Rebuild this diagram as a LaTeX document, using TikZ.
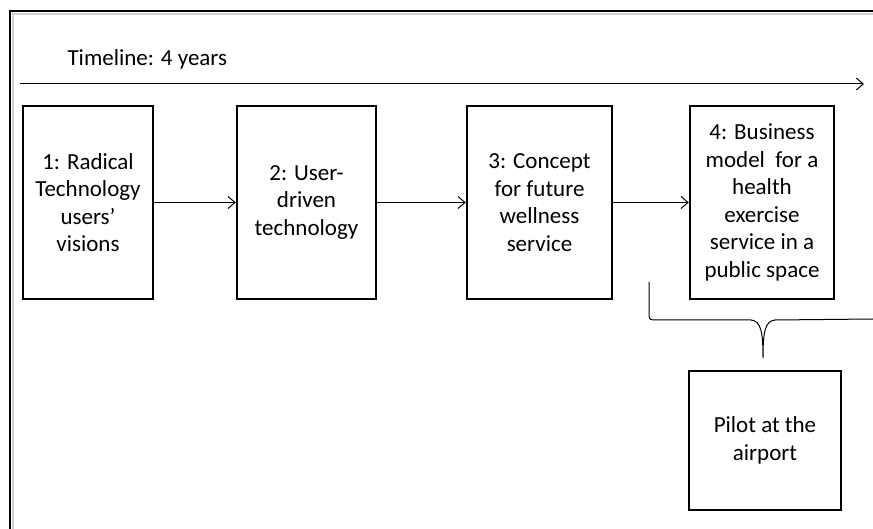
\documentclass[tikz,border=0pt]{standalone}
\usepackage{fontspec}
\setmainfont{Carlito}
\usepackage{tikz}
\usetikzlibrary{arrows.meta}

\tikzset{
	stage/.style={shape=rectangle,draw=black,line width=2.5pt,align=center,inner sep=0pt},
	flow/.style={-{Straight Barb[length=7pt,width=12pt]},line width=1pt},
}

\begin{document}
\begin{tikzpicture}[x=1pt,y=-1pt,font=\fontsize{23}{27.5}\selectfont]
	
	\useasboundingbox (0,0) rectangle (873,529);
	
	% frame
	\draw[gray!35,line width=2pt] (13,529) -- (13,14) -- (873,14);
	\draw[line width=2.5pt] (10,529) -- (10,11) -- (873,11);
	
	% timeline
	\node[anchor=west] (tl) at (64,59) {Timeline: 4 years};
	\coordinate (ts) at (20,84);
	\coordinate (te) at (864,84);
	\path[flow] (ts) edge (te);
	
	\node[stage,minimum width=130,minimum height=193] (s1) at (88,202.5)  {1: Radical\\Technology\\users’\\visions};
	\node[stage,minimum width=139,minimum height=193] (s2) at (306.5,202.5) {2: User-\\driven\\technology};
	\node[stage,minimum width=145,minimum height=193] (s3) at (539.5,202.5) {3: Concept\\for future\\wellness\\service};
	\node[stage,minimum width=144,minimum height=193] (s4) at (762,202.5) {4: Business\\model~ for a\\health\\exercise\\service in a\\public space};
	%\node[stage] (s5) at (762,440) {};
	\node[stage,minimum width=152,minimum height=139] (pilot) at (765,440.5) {Pilot at the\\airport};
	
	\path[flow] (s1) edge (s2);
	\path[flow] (s2) edge (s3);
	\path[flow] (s3) edge (s4);
	
	% brace over the pilot
	\draw[line width=1pt] (649,282) -- (649,312) .. controls (649,320) .. (657,320)
		-- (751,320) .. controls (761,321) and (763,332) .. (763,358)
		.. controls (763,332) and (765,321) .. (775,320) -- (873,319);
	
\end{tikzpicture}
\end{document}
